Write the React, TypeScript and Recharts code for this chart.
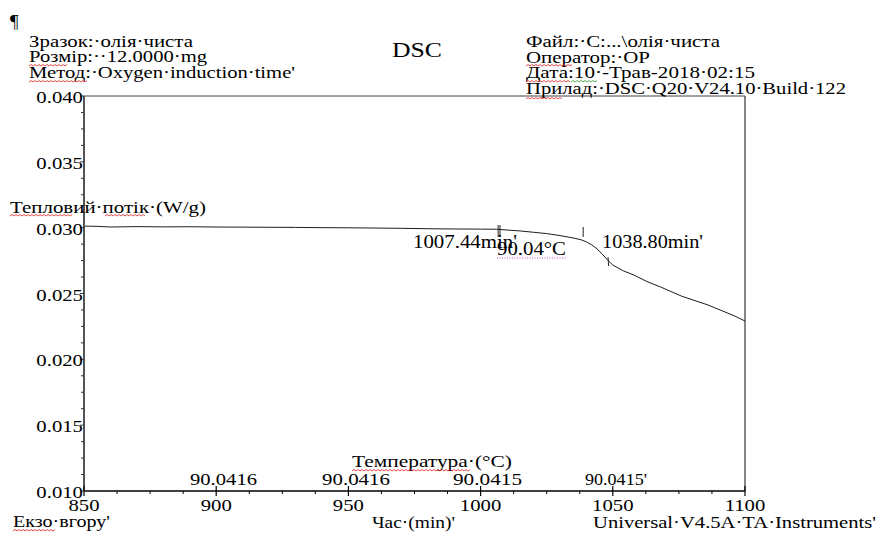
import React from 'react';
import { ComposedChart, Line, XAxis, YAxis, ReferenceLine } from 'recharts';

// ---- data ----
const times = [850, 855, 860, 870, 880, 890, 900, 910, 920, 930, 940, 950, 960, 970, 980, 990, 1000, 1006, 1010, 1015, 1020, 1025, 1030, 1035, 1038, 1040, 1042, 1044, 1046, 1048, 1050, 1054, 1058, 1063, 1068, 1076, 1086, 1096, 1100];
const heatFlow = [0.03012, 0.0301, 0.03005, 0.03008, 0.03006, 0.03007, 0.03005, 0.03004, 0.03003, 0.03002, 0.03, 0.02999, 0.02997, 0.02995, 0.02992, 0.0299, 0.02989, 0.02988, 0.02982, 0.02975, 0.02965, 0.02955, 0.0294, 0.02922, 0.02908, 0.02892, 0.0287, 0.0284, 0.028, 0.02755, 0.02716, 0.02672, 0.0264, 0.0259, 0.0255, 0.0248, 0.02413, 0.0233, 0.02291];

const xMajorTicks = [850, 900, 950, 1000, 1050, 1100];
const yMajorTicks = [0.01, 0.015, 0.02, 0.025, 0.03, 0.035, 0.04];
const yTickLabels = ['0.010', '0.015', '0.020', '0.025', '0.030', '0.035', '0.040'];
const tempLabels = ['90.0416', '90.0416', '90.0415', "90.0415'"];

const onsetTime = 1007.44;
const endTime = 1038.8;

const data = times.map((t, i) => ({ t, v: heatFlow[i] }));

const xTicks: number[] = [];
for (let i = 0; i < xMajorTicks.length - 1; i++) {
  for (let k = 0; k < 4; k++) xTicks.push(xMajorTicks[i] + (k * (xMajorTicks[i + 1] - xMajorTicks[i])) / 4);
}
xTicks.push(xMajorTicks[xMajorTicks.length - 1]);

const yTicks: number[] = [];
for (let i = 0; i < yMajorTicks.length - 1; i++) {
  for (let k = 0; k < 4; k++) yTicks.push(+(yMajorTicks[i] + (k * (yMajorTicks[i + 1] - yMajorTicks[i])) / 4).toFixed(6));
}
yTicks.push(yMajorTicks[yMajorTicks.length - 1]);

const FONT = 'Liberation Serif';
const SX = 1.22;

const XTick = (props: any) => {
  const { x, y, payload } = props;
  const v = payload.value;
  const idx = xMajorTicks.indexOf(v);
  if (idx >= 0) {
    return (
      <g>
        <line x1={x} x2={x} y1={y - 5} y2={y + 5} stroke="#000" strokeWidth={1.2} />
        <text transform={`translate(${x},${y + 20}) scale(${SX},1)`} textAnchor="middle" fontFamily={FONT} fontSize={17} fill="#000">
          {String(v)}
        </text>
      </g>
    );
  }
  return <line x1={x} x2={x} y1={y} y2={y + 3} stroke="#000" strokeWidth={1} />;
};

const YTick = (props: any) => {
  const { x, y, payload } = props;
  const v = payload.value;
  const idx = yMajorTicks.findIndex((m) => Math.abs(m - v) < 1e-7);
  if (idx >= 0) {
    return (
      <g>
        <line x1={x - 4} x2={x} y1={y} y2={y} stroke="#333" strokeWidth={1} />
        <text transform={`translate(${x - 1},${y + 7}) scale(${SX},1)`} textAnchor="end" fontFamily={FONT} fontSize={17} fill="#000">
          {yTickLabels[idx]}
        </text>
      </g>
    );
  }
  return <line x1={x - 3} x2={x} y1={y} y2={y} stroke="#333" strokeWidth={1} />;
};

type TProps = { x: number; y: number; w: number; size?: number; children: React.ReactNode; anchor?: string };
const T = ({ x, y, w, size = 17, children, anchor = 'start' }: TProps) => (
  <text x={x} y={y} textLength={w} lengthAdjust="spacingAndGlyphs" fontFamily={FONT} fontSize={size} fill="#000" textAnchor={anchor as any}>
    {children}
  </text>
);

const Wavy = ({ x1, x2, y, color = '#e02020' }: { x1: number; x2: number; y: number; color?: string }) => {
  let d = `M${x1},${y}`;
  let up = true;
  for (let x = x1 + 2; x <= x2; x += 2) {
    d += ` L${x},${up ? y - 1.5 : y}`;
    up = !up;
  }
  return <path d={d} fill="none" stroke={color} strokeWidth={0.8} />;
};

export default function App() {
  return (
    <div style={{ position: 'absolute', left: 0, top: 0, width: 877, height: 533, background: '#fff' }}>
      <ComposedChart width={877} height={533} data={data} margin={{ top: 96, right: 132, bottom: 22, left: 40 }}>
        <XAxis
          type="number"
          dataKey="t"
          domain={[850, 1100]}
          ticks={xTicks}
          interval={0}
          tickSize={0}
          tickMargin={0}
          tickLine={false}
          tick={<XTick />}
          height={20}
          axisLine={{ stroke: '#000', strokeWidth: 1.5 }}
          allowDataOverflow
        />
        <YAxis
          type="number"
          domain={[0.01, 0.04]}
          ticks={yTicks}
          interval={0}
          tickSize={0}
          tickMargin={0}
          tickLine={false}
          tick={<YTick />}
          width={44}
          axisLine={{ stroke: '#555', strokeWidth: 2 }}
          allowDataOverflow
        />
        <ReferenceLine y={0.04} stroke="#444" strokeWidth={1} />
        <ReferenceLine x={1100} stroke="#333" strokeWidth={1.2} />
        <Line type="linear" dataKey="v" stroke="#1c1c1c" strokeWidth={1} dot={false} isAnimationActive={false} />
        <ReferenceLine segment={[{ x: onsetTime - 0.8, y: 0.0302 }, { x: onsetTime - 0.8, y: 0.02929 }]} stroke="#222" strokeWidth={1} />
        <ReferenceLine segment={[{ x: onsetTime - 0.1, y: 0.0302 }, { x: onsetTime - 0.1, y: 0.02929 }]} stroke="#222" strokeWidth={1} />
        <ReferenceLine segment={[{ x: endTime, y: 0.03005 }, { x: endTime, y: 0.02929 }]} stroke="#222" strokeWidth={1} />
        <ReferenceLine segment={[{ x: 1048.2, y: 0.02777 }, { x: 1048.4, y: 0.02709 }]} stroke="#222" strokeWidth={1} />
      </ComposedChart>
      <svg width={877} height={533} style={{ position: 'absolute', left: 0, top: 0, pointerEvents: 'none' }}>
        <text x={10} y={28} fontFamily={FONT} fontSize={19} fill="#000">¶</text>
        <T x={29} y={47} w={164} size={16}>Зразок:·олія·чиста</T>
        <T x={29} y={62} w={178} size={16}>Розмір:··12.0000·mg</T>
        <T x={29} y={78} w={266} size={16}>Метод:·Oxygen·induction·time'</T>
        <T x={392} y={57} w={50} size={21}>DSC</T>
        <T x={526} y={47} w={194} size={16}>Файл:·C:...\олія·чиста</T>
        <T x={526} y={63} w={124} size={16}>Оператор:·OP</T>
        <T x={526} y={78} w={229} size={16}>Дата:10·-Трав-2018·02:15</T>
        <T x={526} y={94} w={320} size={16}>Прилад:·DSC·Q20·V24.10·Build·122</T>
        <T x={10} y={213} w={196}>Тепловий·потік·(W/g)</T>
        <T x={413} y={248} w={104} size={18}>1007.44min'</T>
        <T x={497} y={255} w={69} size={18}>90.04°C</T>
        <T x={602} y={248} w={101} size={18}>1038.80min'</T>
        <T x={352} y={467} w={160}>Температура·(°C)</T>
        <T x={190} y={485} w={67}>{tempLabels[0]}</T>
        <T x={322} y={485} w={68}>{tempLabels[1]}</T>
        <T x={453} y={485} w={69}>{tempLabels[2]}</T>
        <T x={585} y={485} w={62}>{tempLabels[3]}</T>
        <T x={13} y={527} w={97}>Екзо·вгору'</T>
        <T x={372} y={528} w={83}>Час·(min)'</T>
        <T x={593} y={528} w={283}>Universal·V4.5A·TA·Instruments'</T>
        <Wavy x1={29} x2={67} y={66} />
        <Wavy x1={29} x2={87} y={82} />
        <Wavy x1={526} x2={572} y={66} />
        <Wavy x1={526} x2={571} y={82} />
        <Wavy x1={571} x2={597} y={82} color="#2a9a2a" />
        <Wavy x1={526} x2={563} y={99} />
        <Wavy x1={10} x2={72} y={216} />
        <Wavy x1={105} x2={145} y={216} />
        <Wavy x1={13} x2={55} y={531} />
        <Wavy x1={352} x2={470} y={471} />
        <line x1={497} x2={566} y1={258} y2={258} stroke="#d040d0" strokeWidth={1} strokeDasharray="1,1.5" />
      </svg>
    </div>
  );
}
